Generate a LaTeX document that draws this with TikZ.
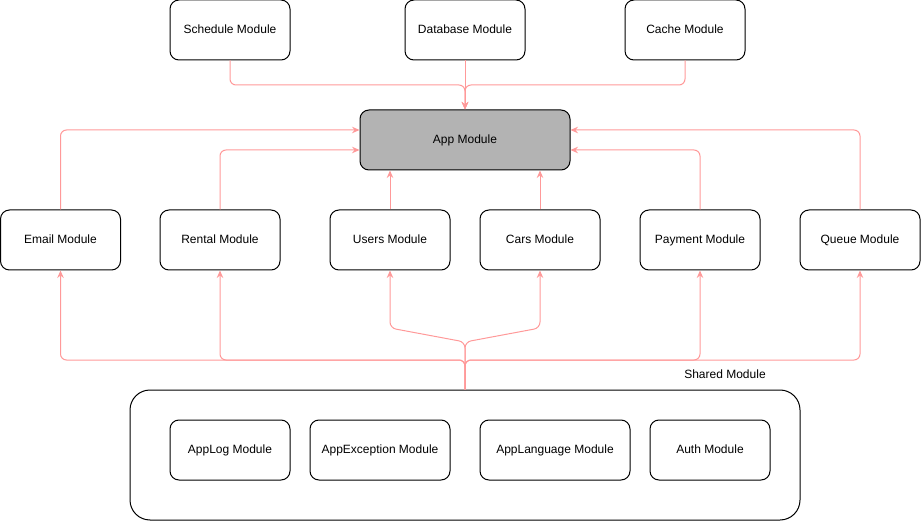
\documentclass[tikz,border=0pt]{standalone}
\usepackage{fontspec}
\setmainfont{Liberation Sans}
\usetikzlibrary{arrows.meta}
\definecolor{edgecol}{HTML}{FF9999}
\definecolor{appfill}{HTML}{B3B3B3}
\begin{document}
\begin{tikzpicture}[x=1pt,y=-1pt,
  box/.style={draw=black, line width=1pt, rounded corners=9pt, minimum width=120pt, minimum height=60pt, inner sep=0pt, text height=8.7pt, text depth=2.5pt, font=\fontsize{12}{14}\selectfont, fill=white},
  edge/.style={draw=edgecol, line width=1pt, rounded corners=6pt, -{Stealth[length=7.5pt,width=6.5pt,inset=2.5pt]}},
  lbl/.style={font=\fontsize{12}{14}\selectfont, inner sep=0pt, text height=8.7pt, text depth=2.5pt}]
\useasboundingbox (0,0) rectangle (921,521);
% top row
\node[box] (sched) at (230,30) {Schedule Module};
\node[box] (db) at (465,30) {Database Module};
\node[box] (cache) at (685,30) {Cache Module};
% app
\node[box, minimum width=210pt, fill=appfill] (app) at (465,140) {App Module};
% middle row
\node[box] (email) at (60.5,240) {Email Module};
\node[box] (rental) at (220,240) {Rental Module};
\node[box] (users) at (390,240) {Users Module};
\node[box] (cars) at (540,240) {Cars Module};
\node[box] (pay) at (700,240) {Payment Module};
\node[box] (queue) at (860,240) {Queue Module};
% shared container
\node[draw=black, line width=1pt, rounded corners=20pt, minimum width=670pt, minimum height=130pt, inner sep=0pt] (shared) at (465,455) {};
\node[lbl] (sharedlbl) at (725,375) {Shared Module};
\node[box] (applog) at (230,450) {AppLog Module};
\node[box, minimum width=140pt] (appexc) at (380,450) {AppException Module};
\node[box, minimum width=150pt] (applang) at (555,450) {AppLanguage Module};
\node[box] (auth) at (710,450) {Auth Module};
% top edges
\draw[edge] (sched.south) -- (sched.south |- 0,85) -- (app.north |- 0,85) -- (app.north);
\draw[edge] (db.south) -- (app.north);
\draw[edge] (cache.south) -- (cache.south |- 0,85) -- (app.north |- 0,85) -- (app.north);
% middle to app
\draw[edge] (email.north) |- ([yshift=10pt]app.west);
\draw[edge] (rental.north) |- ([yshift=-10pt]app.west);
\draw[edge] (users.north) -- (users.north |- app.south);
\draw[edge] (cars.north) -- (cars.north |- app.south);
\draw[edge] (pay.north) |- ([yshift=-10pt]app.east);
\draw[edge] (queue.north) |- ([yshift=10pt]app.east);
% shared to middle
\draw[edge] (shared.north) -- (shared.north |- 0,360) -- (email.south |- 0,360) -- (email.south);
\draw[edge] (shared.north) -- (shared.north |- 0,360) -- (rental.south |- 0,360) -- (rental.south);
\draw[edge] (shared.north) -- (shared.north |- 0,360) -- (pay.south |- 0,360) -- (pay.south);
\draw[edge] (shared.north) -- (shared.north |- 0,360) -- (queue.south |- 0,360) -- (queue.south);
\draw[edge] (shared.north) -- (shared.north |- 0,342) -- (users.south |- 0,328) -- (users.south);
\draw[edge] (shared.north) -- (shared.north |- 0,342) -- (cars.south |- 0,328) -- (cars.south);
\end{tikzpicture}
\end{document}
